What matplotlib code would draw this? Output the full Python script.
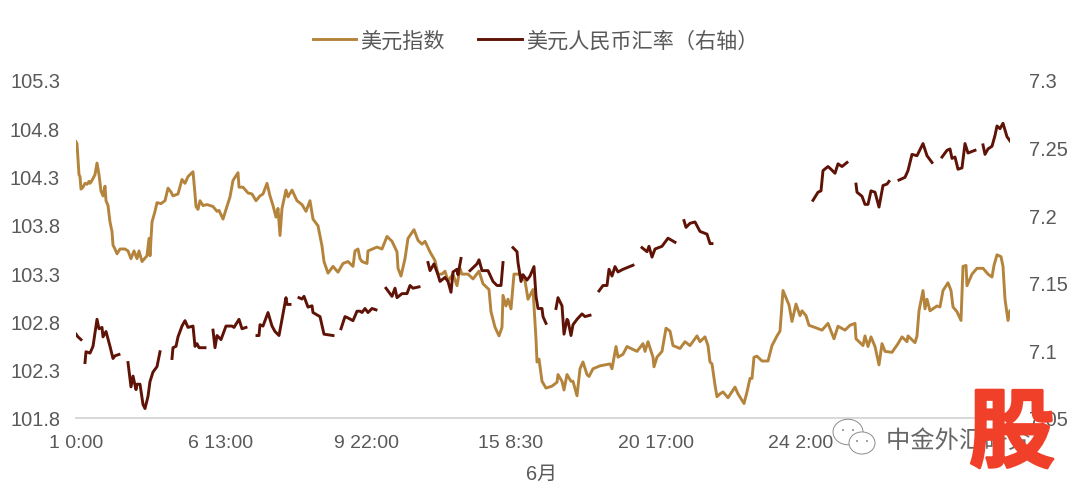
import matplotlib
matplotlib.use("Agg")
import matplotlib.pyplot as plt
import matplotlib.patheffects as pe
from matplotlib.patches import Ellipse

# sample index along the category axis and the dollar index
dxy_x = [0, 1, 3, 4, 5, 7, 9, 11, 13, 14, 16, 19, 21, 23, 25, 27, 29, 30, 32, 34, 36, 37, 39, 41, 44, 49, 52, 55, 58, 61,
         63, 66, 71, 73, 74, 76, 79, 81, 85, 89, 92, 95, 97, 102, 106, 109, 112, 117, 119, 120, 122, 124, 127, 131, 137,
         141, 143, 147, 151, 154, 157, 162, 163, 167, 172, 176, 180, 184, 187, 191, 194, 197, 200, 202, 204, 206, 210,
         212, 216, 221, 226, 230, 234, 237, 242, 246, 248, 252, 257, 262, 267, 272, 277, 279, 282, 284, 286, 291, 292,
         301, 306, 311, 316, 321, 322, 325, 329, 332, 338, 342, 346, 349, 354, 359, 362, 366, 369, 372, 377, 381, 384,
         386, 392, 397, 403, 407, 413, 415, 419, 423, 426, 427, 430, 432, 435, 438, 444, 449, 452, 457, 458, 460, 461,
         463, 466, 470, 476, 481, 482, 486, 488, 491, 495, 497, 501, 504, 507, 511, 513, 517, 524, 534, 536, 540, 542,
         547, 551, 561, 567, 569, 572, 577, 578, 581, 586, 590, 594, 597, 604, 609, 614, 621, 624, 629, 632, 634, 636,
         639, 641, 644, 647, 652, 659, 662, 668, 671, 674, 676, 678, 681, 686, 692, 696, 701, 704, 707, 711, 713, 716,
         720, 724, 726, 730, 733, 741, 746, 752, 758, 762, 769, 774, 779, 780, 787, 789, 792, 795, 799, 803, 806, 809,
         816, 822, 826, 831, 832, 839, 841, 843, 847, 849, 851, 854, 861, 864, 867, 872, 875, 877, 881, 885, 887, 890,
         891, 896, 901, 907, 912, 916, 918, 921, 925, 927, 929, 932, 934]
dxy_y = [104.66, 104.64, 104.32, 104.30, 104.17, 104.19, 104.23, 104.22, 104.25, 104.23, 104.26, 104.32, 104.44, 104.32,
         104.15, 104.10, 104.20, 104.05, 104.00, 103.83, 103.73, 103.59, 103.55, 103.50, 103.55, 103.55, 103.53, 103.45,
         103.53, 103.45, 103.53, 103.42, 103.48, 103.66, 103.48, 103.83, 103.94, 104.03, 104.02, 104.05, 104.18, 104.14,
         104.10, 104.12, 104.27, 104.23, 104.30, 104.35, 104.12, 103.99, 103.96, 104.05, 104.00, 104.01, 103.99, 103.94,
         103.95, 103.86, 103.99, 104.09, 104.26, 104.34, 104.19, 104.19, 104.13, 104.12, 104.05, 104.10, 104.12, 104.23,
         104.10, 104.00, 103.88, 103.97, 103.69, 103.97, 104.16, 104.09, 104.16, 104.05, 104.01, 103.94, 104.05, 103.86,
         103.79, 103.58, 103.42, 103.30, 103.37, 103.31, 103.40, 103.42, 103.37, 103.53, 103.55, 103.45, 103.42, 103.40,
         103.53, 103.57, 103.55, 103.68, 103.63, 103.52, 103.35, 103.27, 103.45, 103.66, 103.75, 103.64, 103.60, 103.63,
         103.52, 103.43, 103.29, 103.29, 103.32, 103.22, 103.29, 103.17, 103.35, 103.29, 103.29, 103.24, 103.32, 103.19,
         103.13, 102.90, 102.74, 102.65, 102.74, 103.07, 102.96, 103.03, 102.93, 103.29, 103.29, 103.22, 103.03, 103.13,
         102.96, 102.62, 102.38, 102.41, 102.18, 102.11, 102.13, 102.17, 102.25, 102.18, 102.09, 102.25, 102.18, 102.18,
         102.03, 102.31, 102.38, 102.25, 102.23, 102.31, 102.34, 102.36, 102.31, 102.54, 102.43, 102.46, 102.54, 102.49,
         102.57, 102.49, 102.59, 102.43, 102.33, 102.43, 102.49, 102.73, 102.70, 102.55, 102.52, 102.59, 102.55, 102.65,
         102.59, 102.64, 102.55, 102.38, 102.36, 102.14, 102.02, 102.05, 102.07, 102.01, 102.12, 102.05, 101.95, 102.07,
         102.21, 102.21, 102.43, 102.44, 102.39, 102.39, 102.55, 102.65, 102.70, 103.12, 103.02, 102.97, 102.80, 102.98,
         102.86, 102.91, 102.86, 102.76, 102.73, 102.71, 102.78, 102.62, 102.75, 102.71, 102.76, 102.78, 102.62, 102.55,
         102.65, 102.54, 102.64, 102.54, 102.35, 102.57, 102.49, 102.48, 102.57, 102.64, 102.59, 102.65, 102.58, 102.65,
         102.91, 103.12, 102.93, 103.03, 102.91, 102.96, 102.95, 103.12, 103.20, 103.12, 102.95, 102.90, 102.81, 103.37,
         103.38, 103.17, 103.29, 103.35, 103.35, 103.29, 103.26, 103.38, 103.49, 103.47, 103.37, 103.03, 102.81, 102.91]

# USD/CNY trades only part of the day, so None marks the gaps in the line
cny_x = [0, 2, 5, 6, 9, 10, 14, 17, 21, 23, 26, 27, 30, 34, 37, 39, 43, 44, 52, 55, 57, 60, 61, 64, 67, 69, 72, 74, 77,
         81, 84, 85, 96, 97, 100, 102, 106, 109, 112, 117, 119, 121, 123, 129, 130, 137, 139, 141, 145, 150, 156, 158,
         163, 166, 170, 171, 181, 183, 184, 187, 192, 196, 199, 203, 206, 210, 211, 214, 215, 223, 226, 228, 232, 236,
         237, 244, 248, 257, 258, 265, 269, 272, 277, 281, 284, 286, 289, 292, 296, 300, 301, 310, 316, 319, 321, 326,
         331, 334, 337, 343, 344, 352, 354, 358, 362, 364, 369, 372, 375, 377, 381, 382, 385, 386, 394, 401, 403, 406,
         412, 417, 421, 425, 427, 428, 437, 441, 442, 445, 447, 451, 454, 458, 460, 462, 466, 467, 470, 471, 480, 482,
         486, 488, 491, 492, 495, 497, 501, 506, 509, 514, 515, 523, 527, 531, 533, 536, 539, 542, 547, 557, 558, 566,
         571, 573, 576, 579, 586, 592, 599, 600, 608, 610, 614, 619, 624, 631, 634, 636, 637, 737, 742, 745, 747, 752,
         755, 759, 762, 766, 771, 772, 780, 781, 786, 789, 792, 795, 799, 803, 807, 811, 813, 814, 823, 829, 832, 836,
         841, 847, 851, 856, 857, 866, 871, 874, 876, 879, 882, 886, 889, 892, 899, 900, 907, 909, 912, 916, 919, 921,
         924, 927, 931, 934]
cny_y = [7.112, 7.110, 7.108, None, 7.091, 7.099, 7.098, 7.103, 7.123, 7.116, 7.117, 7.110, 7.114, 7.103, 7.094, 7.096,
         7.097, None, 7.091, 7.073, 7.081, 7.071, 7.075, 7.075, 7.060, 7.057, 7.066, 7.077, 7.084, 7.088, 7.099, None,
         7.094, 7.102, 7.103, 7.110, 7.118, 7.122, 7.117, 7.118, 7.103, 7.105, 7.102, 7.102, None, 7.115, 7.102, 7.111,
         7.108, 7.118, 7.118, 7.117, 7.123, 7.116, 7.117, None, 7.111, 7.111, 7.119, 7.118, 7.128, 7.118, 7.114, 7.111,
         7.123, 7.139, 7.134, 7.134, None, 7.139, 7.138, 7.140, 7.132, 7.133, 7.128, 7.125, 7.112, 7.111, None, 7.116,
         7.125, 7.124, 7.122, 7.129, 7.129, 7.128, 7.131, 7.128, 7.131, 7.130, None, 7.146, 7.140, 7.146, 7.139, 7.142,
         7.142, 7.148, 7.146, 7.147, None, 7.165, 7.159, 7.164, 7.156, 7.151, 7.154, 7.151, 7.143, 7.158, 7.160, 7.156,
         7.168, None, 7.159, 7.164, 7.167, 7.159, 7.159, 7.151, 7.148, 7.148, 7.165, None, 7.176, 7.173, 7.165, 7.151,
         7.156, 7.152, 7.155, 7.162, 7.140, 7.131, 7.131, 7.125, 7.120, None, 7.131, 7.139, 7.133, 7.112, 7.123, 7.122,
         7.111, 7.119, 7.123, 7.127, 7.125, 7.126, None, 7.144, 7.148, 7.148, 7.160, 7.155, 7.162, 7.158, 7.160, 7.163,
         None, 7.176, 7.173, 7.177, 7.169, 7.175, 7.177, 7.183, 7.180, None, 7.196, 7.191, 7.194, 7.195, 7.188, 7.186,
         7.179, 7.179, None, 7.211, 7.217, 7.218, 7.233, 7.236, 7.234, 7.231, 7.238, 7.236, 7.239, None, 7.223, 7.217,
         7.214, 7.208, 7.208, 7.218, 7.217, 7.206, 7.222, 7.223, 7.225, None, 7.226, 7.228, 7.233, 7.245, 7.244, 7.253,
         7.244, 7.239, None, 7.243, 7.248, 7.249, 7.242, 7.243, 7.234, 7.235, 7.253, 7.246, 7.248, None, 7.252, 7.245,
         7.249, 7.251, 7.259, 7.266, 7.264, 7.268, 7.258, 7.255]

x_ticks = [0, 145, 290, 435, 580, 725]
x_labels = ["1 0:00", "6 13:00", "9 22:00", "15 8:30", "20 17:00", "24 2:00"]
left_ticks = [101.8, 102.3, 102.8, 103.3, 103.8, 104.3, 104.8, 105.3]
right_ticks = [7.05, 7.1, 7.15, 7.2, 7.25, 7.3]
right_labels = ["7.05", "7.1", "7.15", "7.2", "7.25", "7.3"]

plt.rcParams["font.family"] = ["Liberation Sans", "Noto Sans CJK SC", "DejaVu Sans"]
GREY = "#595959"
W, H = 1080, 489

fig = plt.figure(figsize=(W / 100, H / 100), dpi=100, facecolor="white")
ax = fig.add_axes([76 / W, 1 - 419 / H, (1010 - 76) / W, (419 - 81) / H])
ax2 = ax.twinx()

line1, = ax.plot(dxy_x, dxy_y, color="#B5843C", lw=2.1, solid_joinstyle="round", label="美元指数")
cny_vals = [float("nan") if v is None else v for v in cny_y]
line2, = ax2.plot(cny_x, cny_vals, color="#5F1306", lw=2.1, solid_joinstyle="round", label="美元人民币汇率（右轴）")
ax2.set_zorder(ax.get_zorder() + 1)

ax.set_xlim(0, 934)
ax.set_ylim(101.8, 105.3)
ax2.set_ylim(7.05, 7.3)

ax.set_xticks(x_ticks, x_labels)
ax.set_yticks(left_ticks, [f"{v:.1f}" for v in left_ticks])
ax2.set_yticks(right_ticks, right_labels)
ax.tick_params(axis="x", length=0, pad=11.5, labelsize=14, labelcolor=GREY)
ax.tick_params(axis="y", length=0, pad=11.5, labelsize=14.4, labelcolor=GREY)
ax2.tick_params(axis="y", length=0, pad=13.5, labelsize=14.4, labelcolor=GREY)

for a in (ax, ax2):
    for side in ("top", "left", "right"):
        a.spines[side].set_visible(False)
    a.spines["bottom"].set_color("#D9D9D9")
    a.spines["bottom"].set_linewidth(1.3)

fig.legend(handles=[line1, line2], loc="center", bbox_to_anchor=(535.5 / W, 1 - 41 / H), ncol=2, frameon=False,
           fontsize=15.2, labelcolor=GREY, handlelength=2.04, handletextpad=0.2, columnspacing=1.6)
fig.text(542 / W, 1 - 474 / H, "6月", ha="center", va="center", fontsize=14.4, color=GREY)

# watermark: chat bubbles, account name and the red stamp
for cx, cy, r in [(848, 433, 15), (862, 444, 13)]:
    fig.add_artist(Ellipse((cx / W, 1 - cy / H), 2 * r / W, 1.7 * r / H, transform=fig.transFigure,
                           facecolor="white", edgecolor="#8C8C8C", lw=0.7, zorder=5))
    for dx in (-5, 5):
        fig.add_artist(Ellipse(((cx + dx) / W, 1 - (cy - 2) / H), 2 / W, 2 / H, transform=fig.transFigure,
                               facecolor="#8C8C8C", edgecolor="none", zorder=6))
fig.text(886 / W, 1 - 442 / H, "中金外汇研究", ha="left", va="center", fontsize=17.5, color="#666666", zorder=6,
         family=["Noto Sans CJK SC", "DejaVu Sans"],
         path_effects=[pe.withStroke(linewidth=1.2, foreground="white")])
fig.text(1012 / W, 1 - 436 / H, "股", ha="center", va="center", fontsize=62, color="#F0402A", fontweight="bold",
         family=["Noto Sans CJK SC", "DejaVu Sans"], zorder=7,
         path_effects=[pe.withStroke(linewidth=2, foreground="#F0402A")])

fig.savefig("out.png", dpi=100)
